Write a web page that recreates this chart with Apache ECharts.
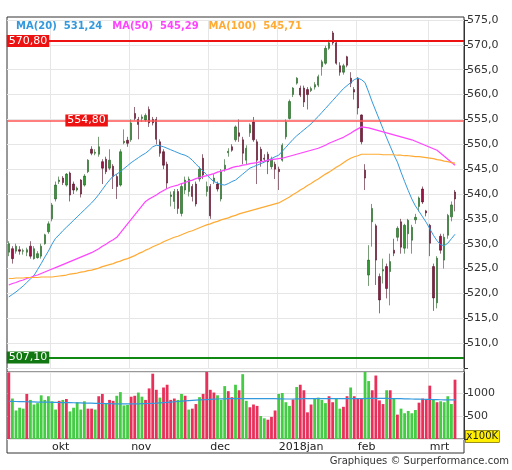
<!DOCTYPE html>
<html><head><meta charset="utf-8">
<script src="https://cdn.jsdelivr.net/npm/echarts@6/dist/echarts.min.js"></script>
<style>html,body{margin:0;padding:0;background:#fff}#c{width:512px;height:470px}</style>
</head><body><div id="c"></div>
<script>
// OHLC per trading day: [open, close, low, high]
const ohlc = [
[528.3,530.0,527.5,530.5],[529.0,527.0,526.0,529.5],[528.5,529.5,528.0,530.0],[528.8,528.5,527.8,529.5],[528.5,528.6,527.8,529.0],
[528.3,528.8,527.5,529.2],[529.5,527.5,527.0,530.5],[527.0,529.0,526.8,529.5],[527.2,528.0,527.0,528.5],[527.5,529.5,527.0,530.0],
[530.0,531.8,529.8,532.0],[532.4,534.0,532.0,534.5],[535.0,537.8,534.5,538.2],[539.0,541.8,538.5,542.5],[542.5,542.8,542.0,543.5],
[543.2,542.3,541.8,543.6],[541.8,544.0,541.5,544.2],[544.2,539.8,538.5,544.5],[542.0,540.8,540.0,542.5],[540.8,541.2,540.5,541.5],
[542.8,540.0,539.3,543.0],[541.8,543.6,541.5,544.0],[544.5,546.8,544.2,547.0],[549.0,548.2,547.8,549.6],[548.2,548.4,547.8,549.0],
[548.0,549.5,547.5,551.5],[546.5,545.2,542.0,547.0],[547.0,544.5,544.0,547.5],[545.2,546.8,544.8,549.0],[545.6,543.5,541.0,546.0],
[543.5,541.5,539.0,544.0],[541.8,548.5,541.5,549.0],[550.3,550.6,550.0,553.0],[550.8,550.2,549.5,551.5],[550.9,554.3,550.5,555.0],
[556.2,555.2,554.8,557.5],[555.0,554.0,551.0,555.5],[555.2,555.5,554.5,556.0],[554.9,555.8,554.5,556.2],[557.0,554.3,553.5,557.6],
[555.0,554.3,553.8,555.5],[555.0,551.0,550.0,555.5],[550.5,548.2,547.5,551.0],[548.5,545.8,545.0,549.0],[546.0,542.2,541.0,546.5],
[539.5,539.8,537.5,540.5],[538.5,540.5,537.0,541.0],[540.5,537.1,536.0,541.0],[536.1,541.5,535.5,542.0],[540.8,542.8,540.0,543.5],
[540.5,543.0,539.5,543.5],[541.5,539.5,538.5,542.0],[542.0,538.0,537.5,542.5],[543.0,545.0,542.5,545.5],[547.2,543.8,543.0,548.0],
[540.5,541.5,539.5,542.5],[541.5,535.6,535.0,542.0],[542.5,543.2,542.0,544.0],[542.0,541.0,540.5,542.5],[539.0,544.5,538.5,545.0],
[545.0,545.8,544.5,547.0],[548.3,548.6,547.5,549.2],[549.5,548.8,548.5,550.0],[550.9,553.5,550.5,553.8],[552.3,551.6,550.5,555.0],
[550.9,548.2,546.0,551.5],[546.8,549.2,546.0,549.8],[552.3,553.9,551.5,554.2],[554.5,550.9,550.5,555.5],[550.5,546.8,542.0,551.0],
[549.0,546.5,545.5,549.5],[547.2,547.0,546.5,548.0],[548.0,546.5,544.0,548.5],[545.5,547.0,545.0,547.5],[546.0,545.0,543.0,546.5],
[545.0,544.5,540.8,545.5],[546.8,549.8,546.5,550.2],[551.5,554.5,551.0,555.0],[555.2,558.6,555.0,559.0],[560.0,561.3,559.5,561.5],
[562.3,563.3,562.0,563.5],[561.3,559.9,559.5,561.8],[561.3,558.5,557.5,561.8],[561.0,560.0,557.0,561.5],[560.8,561.2,560.5,561.6],
[561.5,562.0,561.0,562.5],[561.9,563.6,561.5,564.0],[565.6,566.6,563.8,567.0],[566.3,569.3,566.0,569.8],[569.3,570.4,569.0,571.0],
[572.4,570.4,570.0,572.8],[570.4,566.3,566.0,570.8],[565.8,564.5,563.8,566.5],[564.5,565.8,564.0,566.2],[567.6,565.9,565.5,567.8],
[563.3,562.3,561.5,564.5],[561.0,560.5,559.0,561.5],[563.3,557.3,556.0,563.5],[555.9,550.5,550.0,556.0],[544.8,543.2,540.8,546.0],
[523.7,526.7,521.5,529.7],[534.4,537.1,529.4,538.0],[533.6,526.7,521.7,534.0],[523.4,518.7,516.0,524.0],[524.5,524.8,522.0,527.0],
[525.4,521.0,519.0,526.0],[524.4,526.4,517.6,528.0],[528.7,528.1,527.5,531.0],[531.3,533.1,530.5,533.5],[534.4,529.3,528.0,535.0],
[529.1,533.7,528.0,534.0],[532.0,534.7,529.0,535.0],[530.7,533.3,528.0,533.8],[534.8,535.3,534.0,536.0],[537.5,539.2,536.5,539.5],
[541.0,538.4,538.0,541.5],[536.6,536.2,535.5,536.8],[533.7,530.1,527.5,534.0],[525.4,519.1,516.5,526.0],[518.1,527.1,517.0,527.5],
[531.5,528.7,528.0,532.0],[526.7,531.3,525.0,532.0],[531.7,535.7,531.0,536.0],[535.4,537.8,534.5,538.5],[540.4,539.0,536.5,540.8]
];
const ma20 = [519.3,519.8,520.3,520.9,521.5,522.2,522.9,523.6,524.8,526.0,527.3,528.5,529.9,531.1,531.8,532.6,533.3,534.0,534.7,535.4,536.1,536.8,537.5,538.2,539.0,539.9,540.9,541.9,542.8,543.6,544.0,544.5,545.1,545.7,546.3,546.8,547.3,547.8,548.2,548.8,549.5,549.8,549.7,549.5,549.2,548.9,548.6,548.3,548.0,547.8,547.4,546.8,546.0,545.3,544.6,543.9,543.1,542.5,542.2,541.9,541.8,542.1,542.5,542.8,543.4,544.0,544.6,545.2,545.5,545.8,546.1,546.4,546.8,547.1,547.5,547.8,548.6,549.4,550.2,551.0,551.7,552.3,552.9,553.5,554.1,554.9,555.6,556.4,557.2,558.0,558.8,559.6,560.4,561.2,561.8,562.4,563.0,563.3,563.0,562.4,560.5,558.5,556.7,554.9,553.1,551.3,549.6,547.9,546.4,544.4,542.5,540.7,539.0,537.6,536.5,535.4,534.3,533.0,531.7,530.6,529.8,529.6,530.1,531.0,531.9];
const ma50 = [521.7,522.0,522.2,522.5,522.7,523.0,523.2,523.5,523.7,524.0,524.3,524.6,524.9,525.2,525.5,525.8,526.1,526.4,526.7,527.0,527.3,527.6,527.9,528.2,528.6,529.0,529.5,529.9,530.4,530.8,531.3,532.2,533.1,534.0,534.9,535.8,536.7,537.6,538.5,539.0,539.4,539.8,540.3,540.7,541.1,541.4,541.6,541.8,542.1,542.3,542.6,542.8,543.1,543.3,543.5,543.7,543.9,544.1,544.4,544.6,544.8,545.0,545.3,545.5,545.6,545.8,545.9,546.1,546.2,546.3,546.5,546.6,546.8,546.9,547.0,547.1,547.2,547.4,547.6,547.8,548.0,548.2,548.4,548.6,548.8,549.0,549.2,549.5,549.8,550.2,550.5,550.8,551.1,551.4,551.8,552.2,552.7,553.1,553.5,553.4,553.3,553.1,552.9,552.7,552.5,552.3,552.1,551.9,551.7,551.5,551.3,551.1,550.9,550.6,550.3,550.0,549.7,549.4,549.1,548.8,548.2,547.6,547.0,546.4,545.8];
const ma100 = [523.0,523.0,523.1,523.1,523.1,523.2,523.2,523.2,523.2,523.3,523.3,523.3,523.3,523.4,523.5,523.6,523.7,523.9,524.0,524.1,524.3,524.4,524.6,524.7,524.9,525.1,525.4,525.6,525.8,526.0,526.3,526.5,526.8,527.0,527.3,527.6,528.0,528.3,528.7,529.0,529.4,529.7,530.0,530.4,530.7,531.0,531.3,531.5,531.8,532.1,532.4,532.6,532.9,533.2,533.5,533.8,534.0,534.3,534.5,534.8,535.0,535.2,535.5,535.7,536.0,536.2,536.4,536.6,536.8,537.0,537.2,537.4,537.6,537.8,538.0,538.2,538.6,539.0,539.4,539.9,540.3,540.8,541.2,541.7,542.1,542.6,543.0,543.5,544.0,544.4,544.9,545.4,545.8,546.3,546.8,547.2,547.5,547.7,548.0,548.0,548.0,548.0,548.0,548.0,547.9,547.9,547.9,547.9,547.8,547.8,547.7,547.7,547.6,547.5,547.5,547.4,547.3,547.2,547.1,546.9,546.8,546.6,546.5,546.3,546.2];
const volume = [1450,880,620,680,660,980,850,750,780,950,850,930,820,640,830,850,870,600,680,800,640,820,660,660,640,930,980,760,850,830,940,1020,730,740,920,940,1010,920,850,1100,1420,1070,900,1120,1180,850,880,850,980,940,640,660,760,910,980,1460,1070,1010,950,850,1150,1040,910,1180,1060,1410,830,690,750,720,500,450,420,480,620,980,1000,800,720,860,1130,1180,1060,580,750,870,900,850,780,930,800,870,660,700,930,1120,930,890,870,1470,1260,1060,1380,840,760,1060,1060,880,530,660,560,610,560,630,790,880,860,1160,860,800,820,800,930,760,1290];
const volumeDir = "rggggrgggg" + "ggggrgrggg" + "ggrrgrrgrr" + "ggggrrggrr" + "rrgrrrrggr" + "grrgrrrrgg" + "grrgrggrrr" + "ggrrrggggr" + "grrrrggggr" + "rggrrgrrrg" + "grrrrgrgrg" + "ggggrrrrgr" + "ggggr";
const volumeMA = [820,818,816,814,812,810,808,806,804,802,800,800,798,796,794,792,790,790,788,786,784,782,780,778,776,774,772,770,768,766,764,762,762,762,762,764,766,768,770,772,776,780,786,792,798,804,810,816,822,828,834,840,846,850,854,858,862,866,870,872,874,876,878,880,880,880,880,880,880,880,880,880,880,878,876,874,872,870,870,870,872,874,876,878,880,880,880,880,880,880,880,880,880,880,880,880,880,880,880,880,882,884,884,884,884,882,880,880,878,876,874,872,870,868,866,864,862,860,858,856,854,852,852,850,850];
const monthLabels = {12:'okt',34:'nov',56:'dec',75:'2018jan',97:'feb',117:'mrt'};
const priceTicks = {min:505, max:575, step:5};
const volumeTicks = {max:1457, step:500};
const legendValues = {ma20:'531,24', ma50:'545,29', ma100:'545,71'};
const levels = {r1:570.8, r2:554.8, s1:507.1};

const nCat = ohlc.length + 2;
const cats = Array.from({length:nCat}, (_, i) => String(i));
const fmt = (v, d) => v.toFixed(d).replace('.', ',');
const volData = volume.map((v, i) => ({value: v, itemStyle: {color: volumeDir[i] === 'g' ? '#44cc44' : '#e8305a'}}));
const isMonth = i => monthLabels[i] !== undefined;
const F = 'DejaVu Sans, Verdana, sans-serif';

const chart = echarts.init(document.getElementById('c'));
chart.setOption({
  animation: false,
  backgroundColor: '#fff',
  title: {
    left: 11, top: 12,
    text: '{a|MA(20)  ' + legendValues.ma20 + '}  {b|MA(50)  ' + legendValues.ma50 + '}  {c|MA(100)  ' + legendValues.ma100 + '}',
    textStyle: {rich: {
      a: {color: '#3399dd', fontSize: 10, fontFamily: F},
      b: {color: '#ff44ff', fontSize: 10, fontFamily: F},
      c: {color: '#ffaa33', fontSize: 10, fontFamily: F}
    }}
  },
  grid: [
    {left: 7, right: 48, top: 20, height: 348},
    {left: 7, right: 48, top: 372, height: 67}
  ],
  xAxis: [
    {type: 'category', data: cats, gridIndex: 0, boundaryGap: true,
     axisLine: {show: false}, axisTick: {show: false}, axisLabel: {show: false},
     splitLine: {show: true, interval: (i) => isMonth(i), lineStyle: {color: '#e6e6e6'}}},
    {type: 'category', data: cats, gridIndex: 1, boundaryGap: true,
     axisLine: {show: false}, axisTick: {show: false},
     axisLabel: {interval: (i) => isMonth(i), formatter: (v) => monthLabels[+v] || '', align: 'left',
                 color: '#222', fontSize: 11, fontFamily: F, margin: 3},
     splitLine: {show: true, interval: (i) => isMonth(i), lineStyle: {color: '#e6e6e6'}}}
  ],
  yAxis: [
    {type: 'value', gridIndex: 0, position: 'right', min: priceTicks.min, max: priceTicks.max, interval: priceTicks.step,
     axisLine: {show: true, lineStyle: {color: '#333'}}, axisTick: {show: true, length: 4, lineStyle: {color: '#333'}},
     axisLabel: {formatter: (v) => v === priceTicks.min ? '' : fmt(v, 1), color: '#333', fontSize: 11, fontFamily: F, margin: 3},
     splitLine: {show: true, lineStyle: {color: '#e6e6e6'}}},
    {type: 'value', gridIndex: 1, position: 'right', min: 0, max: volumeTicks.max, interval: volumeTicks.step,
     axisLine: {show: true, lineStyle: {color: '#333'}}, axisTick: {show: true, length: 4, lineStyle: {color: '#333'}},
     axisLabel: {showMaxLabel: false, formatter: (v) => (v === 0 || v % volumeTicks.step !== 0) ? '' : String(v), color: '#333', fontSize: 11, fontFamily: F, margin: 3},
     splitLine: {show: true, lineStyle: {color: '#e6e6e6'}}}
  ],
  series: [
    {type: 'candlestick', xAxisIndex: 0, yAxisIndex: 0, data: ohlc, barMaxWidth: 3,
     itemStyle: {color: '#339933', color0: '#9a1545', borderColor: '#1f5a1f', borderColor0: '#4a0a1e', borderWidth: 0.6},
     markLine: {symbol: 'none', silent: true, label: {show: false},
       data: [
         {yAxis: levels.r1, lineStyle: {color: '#ee1111', width: 2, type: 'solid'}},
         {yAxis: levels.r2, lineStyle: {color: '#ff5555', width: 1.5, type: 'solid'}},
         {yAxis: levels.s1, lineStyle: {color: '#118811', width: 2, type: 'solid'}}
       ]},
     markPoint: {symbol: 'rect', symbolSize: 0, silent: true,
       label: {show: true, position: 'inside', align: 'left', verticalAlign: 'middle', color: '#fff',
               fontSize: 11, fontFamily: F, padding: [1, 2, 0, 2]},
       data: [
         {coord: ['0', levels.r1], label: {formatter: fmt(levels.r1, 2), backgroundColor: '#ee1111', offset: [-2, 0]}},
         {coord: ['16', levels.r2], label: {formatter: fmt(levels.r2, 2), backgroundColor: '#ee1111', offset: [-1, 0]}},
         {coord: ['0', levels.s1], label: {formatter: fmt(levels.s1, 2), backgroundColor: '#117711', offset: [-2, 0]}}
       ]}},
    {type: 'line', xAxisIndex: 0, yAxisIndex: 0, data: ma20, symbol: 'none', lineStyle: {color: '#3399dd', width: 1}},
    {type: 'line', xAxisIndex: 0, yAxisIndex: 0, data: ma50, symbol: 'none', lineStyle: {color: '#ff44ff', width: 1.2}},
    {type: 'line', xAxisIndex: 0, yAxisIndex: 0, data: ma100, symbol: 'none', lineStyle: {color: '#ffaa33', width: 1.2}},
    {type: 'bar', xAxisIndex: 1, yAxisIndex: 1, data: volData, barCategoryGap: '22%'},
    {type: 'line', xAxisIndex: 1, yAxisIndex: 1, data: volumeMA, symbol: 'none', lineStyle: {color: '#3399dd', width: 1.2}}
  ],
  graphic: [
    {type: 'rect', shape: {x: 7, y: 17, width: 457, height: 436}, style: {fill: 'none', stroke: '#333', lineWidth: 1}, silent: true},
    {type: 'line', shape: {x1: 7, y1: 372, x2: 464, y2: 372}, style: {stroke: '#333', lineWidth: 1}, silent: true},
    {type: 'line', shape: {x1: 7, y1: 439, x2: 464, y2: 439}, style: {stroke: '#333', lineWidth: 1}, silent: true},
    {type: 'text', left: 465, top: 430, style: {text: 'x100K', fill: '#222', backgroundColor: '#ffee00', fontSize: 10, fontFamily: F, padding: [1, 1], borderColor: '#333', borderWidth: 0.5}},
    {type: 'text', right: 3, top: 456, style: {text: 'Graphiques © Surperformance.com', fill: '#333', fontSize: 10, fontFamily: F}}
  ]
});
</script></body></html>
